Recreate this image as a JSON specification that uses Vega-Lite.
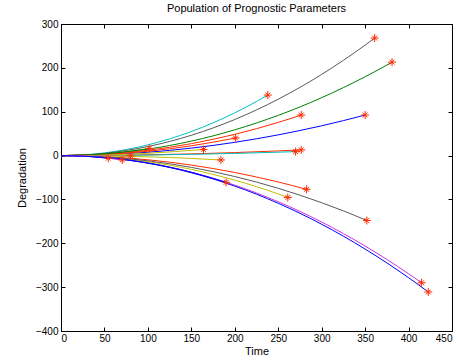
{
  "$schema": "https://vega.github.io/schema/vega-lite/v6.json",
  "width": 391,
  "height": 307,
  "autosize": "none",
  "padding": {"left": 61, "top": 24, "right": 6, "bottom": 33},
  "background": "white",
  "title": {"text": "Population of Prognostic Parameters", "font": "Liberation Sans", "fontSize": 11, "fontWeight": "normal", "color": "#000", "offset": 5},
  "config": {
    "view": {"stroke": null},
    "axis": {"grid": false, "domainColor": "#000", "domainWidth": 1, "tickColor": "#000", "tickSize": -4, "labelFont": "Liberation Sans", "labelFontSize": 10, "labelColor": "#000", "titleFont": "Liberation Sans", "titleFontSize": 11, "titleFontWeight": "normal", "titleColor": "#000"}
  },
  "datasets": {
    "curves": [
      {"s": "c1", "t": 0, "v": 0}, {"s": "c1", "t": 25, "v": 1.5}, {"s": "c1", "t": 50, "v": 6.1}, {"s": "c1", "t": 75, "v": 13.7}, {"s": "c1", "t": 100, "v": 24.4}, {"s": "c1", "t": 125, "v": 38.1}, {"s": "c1", "t": 150, "v": 54.8}, {"s": "c1", "t": 175, "v": 74.6}, {"s": "c1", "t": 200, "v": 97.4}, {"s": "c1", "t": 225, "v": 123.3}, {"s": "c1", "t": 238, "v": 138},
      {"s": "c2", "t": 0, "v": 0}, {"s": "c2", "t": 25, "v": 1.3}, {"s": "c2", "t": 50, "v": 5.1}, {"s": "c2", "t": 75, "v": 11.6}, {"s": "c2", "t": 100, "v": 20.6}, {"s": "c2", "t": 125, "v": 32.1}, {"s": "c2", "t": 150, "v": 46.3}, {"s": "c2", "t": 175, "v": 63.0}, {"s": "c2", "t": 200, "v": 82.2}, {"s": "c2", "t": 225, "v": 104.1}, {"s": "c2", "t": 250, "v": 128.5}, {"s": "c2", "t": 275, "v": 155.5}, {"s": "c2", "t": 300, "v": 185.0}, {"s": "c2", "t": 325, "v": 217.2}, {"s": "c2", "t": 350, "v": 251.9}, {"s": "c2", "t": 361, "v": 268},
      {"s": "c3", "t": 0, "v": 0}, {"s": "c3", "t": 25, "v": 0.9}, {"s": "c3", "t": 50, "v": 3.7}, {"s": "c3", "t": 75, "v": 8.3}, {"s": "c3", "t": 100, "v": 14.7}, {"s": "c3", "t": 125, "v": 22.9}, {"s": "c3", "t": 150, "v": 33.0}, {"s": "c3", "t": 175, "v": 44.9}, {"s": "c3", "t": 200, "v": 58.7}, {"s": "c3", "t": 225, "v": 74.3}, {"s": "c3", "t": 250, "v": 91.7}, {"s": "c3", "t": 275, "v": 110.9}, {"s": "c3", "t": 300, "v": 132.0}, {"s": "c3", "t": 325, "v": 155.0}, {"s": "c3", "t": 350, "v": 179.7}, {"s": "c3", "t": 375, "v": 206.3}, {"s": "c3", "t": 381, "v": 213},
      {"s": "c4", "t": 0, "v": 0}, {"s": "c4", "t": 25, "v": 0.8}, {"s": "c4", "t": 50, "v": 3.0}, {"s": "c4", "t": 75, "v": 6.8}, {"s": "c4", "t": 100, "v": 12.1}, {"s": "c4", "t": 125, "v": 18.9}, {"s": "c4", "t": 150, "v": 27.2}, {"s": "c4", "t": 175, "v": 37.1}, {"s": "c4", "t": 200, "v": 48.4}, {"s": "c4", "t": 225, "v": 61.3}, {"s": "c4", "t": 250, "v": 75.6}, {"s": "c4", "t": 276.5, "v": 92.5},
      {"s": "c5", "t": 0, "v": 0}, {"s": "c5", "t": 25, "v": 0.5}, {"s": "c5", "t": 50, "v": 1.9}, {"s": "c5", "t": 75, "v": 4.2}, {"s": "c5", "t": 100, "v": 7.6}, {"s": "c5", "t": 125, "v": 11.8}, {"s": "c5", "t": 150, "v": 17.0}, {"s": "c5", "t": 175, "v": 23.1}, {"s": "c5", "t": 200, "v": 30.2}, {"s": "c5", "t": 225, "v": 38.2}, {"s": "c5", "t": 250, "v": 47.2}, {"s": "c5", "t": 275, "v": 57.1}, {"s": "c5", "t": 300, "v": 67.9}, {"s": "c5", "t": 325, "v": 79.7}, {"s": "c5", "t": 350, "v": 92.5},
      {"s": "c6", "t": 0, "v": 0}, {"s": "c6", "t": 50, "v": 0.4}, {"s": "c6", "t": 100, "v": 1.7}, {"s": "c6", "t": 150, "v": 3.8}, {"s": "c6", "t": 200, "v": 6.8}, {"s": "c6", "t": 250, "v": 10.6}, {"s": "c6", "t": 276.5, "v": 13},
      {"s": "c7", "t": 0, "v": 0}, {"s": "c7", "t": 50, "v": 0.3}, {"s": "c7", "t": 100, "v": 1.2}, {"s": "c7", "t": 150, "v": 2.8}, {"s": "c7", "t": 200, "v": 4.9}, {"s": "c7", "t": 250, "v": 7.7}, {"s": "c7", "t": 270, "v": 9},
      {"s": "c8", "t": 0, "v": 0}, {"s": "c8", "t": 25, "v": -0.6}, {"s": "c8", "t": 50, "v": -2.4}, {"s": "c8", "t": 75, "v": -5.4}, {"s": "c8", "t": 100, "v": -9.6}, {"s": "c8", "t": 125, "v": -15.0}, {"s": "c8", "t": 150, "v": -21.7}, {"s": "c8", "t": 175, "v": -29.5}, {"s": "c8", "t": 200, "v": -38.5}, {"s": "c8", "t": 225, "v": -48.8}, {"s": "c8", "t": 250, "v": -60.2}, {"s": "c8", "t": 282.7, "v": -77},
      {"s": "c9", "t": 0, "v": 0}, {"s": "c9", "t": 25, "v": -0.9}, {"s": "c9", "t": 50, "v": -3.5}, {"s": "c9", "t": 75, "v": -7.9}, {"s": "c9", "t": 100, "v": -14.0}, {"s": "c9", "t": 125, "v": -21.9}, {"s": "c9", "t": 150, "v": -31.5}, {"s": "c9", "t": 175, "v": -42.9}, {"s": "c9", "t": 200, "v": -56.0}, {"s": "c9", "t": 225, "v": -70.9}, {"s": "c9", "t": 250, "v": -87.5}, {"s": "c9", "t": 261, "v": -95.5},
      {"s": "c10", "t": 0, "v": 0}, {"s": "c10", "t": 25, "v": -0.7}, {"s": "c10", "t": 50, "v": -3.0}, {"s": "c10", "t": 75, "v": -6.7}, {"s": "c10", "t": 100, "v": -11.9}, {"s": "c10", "t": 125, "v": -18.7}, {"s": "c10", "t": 150, "v": -26.9}, {"s": "c10", "t": 175, "v": -36.6}, {"s": "c10", "t": 200, "v": -47.8}, {"s": "c10", "t": 225, "v": -60.4}, {"s": "c10", "t": 250, "v": -74.6}, {"s": "c10", "t": 275, "v": -90.3}, {"s": "c10", "t": 300, "v": -107.5}, {"s": "c10", "t": 325, "v": -126.1}, {"s": "c10", "t": 352, "v": -148},
      {"s": "c11", "t": 0, "v": 0}, {"s": "c11", "t": 25, "v": -1.1}, {"s": "c11", "t": 50, "v": -4.2}, {"s": "c11", "t": 75, "v": -9.5}, {"s": "c11", "t": 100, "v": -16.8}, {"s": "c11", "t": 125, "v": -26.3}, {"s": "c11", "t": 150, "v": -37.9}, {"s": "c11", "t": 175, "v": -51.6}, {"s": "c11", "t": 200, "v": -67.4}, {"s": "c11", "t": 225, "v": -85.3}, {"s": "c11", "t": 250, "v": -105.3}, {"s": "c11", "t": 275, "v": -127.4}, {"s": "c11", "t": 300, "v": -151.6}, {"s": "c11", "t": 325, "v": -177.9}, {"s": "c11", "t": 350, "v": -206.3}, {"s": "c11", "t": 375, "v": -236.8}, {"s": "c11", "t": 400, "v": -269.4}, {"s": "c11", "t": 415, "v": -290},
      {"s": "c12", "t": 0, "v": 0}, {"s": "c12", "t": 25, "v": -1.1}, {"s": "c12", "t": 50, "v": -4.4}, {"s": "c12", "t": 75, "v": -9.8}, {"s": "c12", "t": 100, "v": -17.4}, {"s": "c12", "t": 125, "v": -27.2}, {"s": "c12", "t": 150, "v": -39.2}, {"s": "c12", "t": 175, "v": -53.3}, {"s": "c12", "t": 200, "v": -69.6}, {"s": "c12", "t": 225, "v": -88.1}, {"s": "c12", "t": 250, "v": -108.8}, {"s": "c12", "t": 275, "v": -131.6}, {"s": "c12", "t": 300, "v": -156.6}, {"s": "c12", "t": 325, "v": -183.8}, {"s": "c12", "t": 350, "v": -213.2}, {"s": "c12", "t": 375, "v": -244.7}, {"s": "c12", "t": 400, "v": -278.4}, {"s": "c12", "t": 422.7, "v": -311},
      {"s": "c13", "t": 0, "v": 0}, {"s": "c13", "t": 50, "v": 2.5}, {"s": "c13", "t": 100, "v": 9.9}, {"s": "c13", "t": 150, "v": 22.3}, {"s": "c13", "t": 201, "v": 40},
      {"s": "c14", "t": 0, "v": 0}, {"s": "c14", "t": 50, "v": 1.3}, {"s": "c14", "t": 100, "v": 5.2}, {"s": "c14", "t": 164, "v": 14},
      {"s": "c15", "t": 0, "v": 0}, {"s": "c15", "t": 50, "v": -0.7}, {"s": "c15", "t": 100, "v": -2.9}, {"s": "c15", "t": 150, "v": -6.5}, {"s": "c15", "t": 184, "v": -10},
      {"s": "c16", "t": 0, "v": 0}, {"s": "c16", "t": 50, "v": -4.2}, {"s": "c16", "t": 100, "v": -16.9}, {"s": "c16", "t": 150, "v": -38}, {"s": "c16", "t": 190, "v": -61},
      {"s": "c17", "t": 0, "v": 0}, {"s": "c17", "t": 50, "v": 3.9}, {"s": "c17", "t": 101.6, "v": 16},
      {"s": "c18", "t": 0, "v": 0}, {"s": "c18", "t": 40, "v": 0}, {"s": "c18", "t": 80, "v": -0.5},
      {"s": "c19", "t": 0, "v": 0}, {"s": "c19", "t": 35, "v": -2.4}, {"s": "c19", "t": 70.5, "v": -10},
      {"s": "c20", "t": 0, "v": 0}, {"s": "c20", "t": 27, "v": -1.5}, {"s": "c20", "t": 54.4, "v": -6}
    ],
    "stars": [
      {"t": 238, "v": 138}, {"t": 361, "v": 268}, {"t": 381, "v": 213}, {"t": 276.5, "v": 92.5}, {"t": 350, "v": 92.5},
      {"t": 276.5, "v": 13}, {"t": 270, "v": 9}, {"t": 282.7, "v": -77}, {"t": 261, "v": -95.5}, {"t": 352, "v": -148},
      {"t": 415, "v": -290}, {"t": 422.7, "v": -311}, {"t": 201, "v": 40}, {"t": 164, "v": 14}, {"t": 184, "v": -10},
      {"t": 190, "v": -61}, {"t": 101.6, "v": 16}, {"t": 80, "v": -0.5}, {"t": 70.5, "v": -10}, {"t": 54.4, "v": -6}
    ]
  },
  "layer": [
    {
      "data": {"name": "curves"},
      "mark": {"type": "line", "strokeWidth": 1, "interpolate": "monotone", "clip": true},
      "encoding": {
        "x": {"field": "t", "type": "quantitative", "scale": {"domain": [0, 450], "nice": false, "zero": false}, "axis": {"values": [0, 50, 100, 150, 200, 250, 300, 350, 400, 450], "title": "Time", "labelPadding": 6, "titlePadding": 2}},
        "y": {"field": "v", "type": "quantitative", "scale": {"domain": [-400, 300], "nice": false, "zero": false}, "axis": {"values": [-400, -300, -200, -100, 0, 100, 200, 300], "title": "Degradation", "labelPadding": 7, "titlePadding": 8}},
        "color": {"field": "s", "type": "nominal", "legend": null, "scale": {
          "domain": ["c1", "c2", "c3", "c4", "c5", "c6", "c7", "c8", "c9", "c10", "c11", "c12", "c13", "c14", "c15", "c16", "c17", "c18", "c19", "c20"],
          "range": ["#00bfbf", "#595959", "#008000", "#ff2a00", "#0000ff", "#ff2a00", "#00bfbf", "#ff2a00", "#bfbf00", "#595959", "#cc33dd", "#0000ff", "#ff2a00", "#bfbf00", "#bfbf00", "#0000ff", "#008000", "#bf8060", "#cc33dd", "#0000ff"]}},
        "order": {"field": "t", "type": "quantitative"}
      }
    },
    {
      "data": {"name": "stars"},
      "mark": {"type": "point", "shape": "M-1,0L1,0M0,-1L0,1M-0.6,-0.6L0.6,0.6M-0.6,0.6L0.6,-0.6", "filled": false, "stroke": "#ff2a00", "strokeWidth": 1, "size": 64, "opacity": 1},
      "encoding": {
        "x": {"field": "t", "type": "quantitative", "axis": {"orient": "top", "values": [0, 50, 100, 150, 200, 250, 300, 350, 400, 450], "labels": false, "title": null}},
        "y": {"field": "v", "type": "quantitative", "axis": {"orient": "right", "values": [-400, -300, -200, -100, 0, 100, 200, 300], "labels": false, "title": null}}
      }
    }
  ],
  "resolve": {"axis": {"x": "independent", "y": "independent"}}
}
